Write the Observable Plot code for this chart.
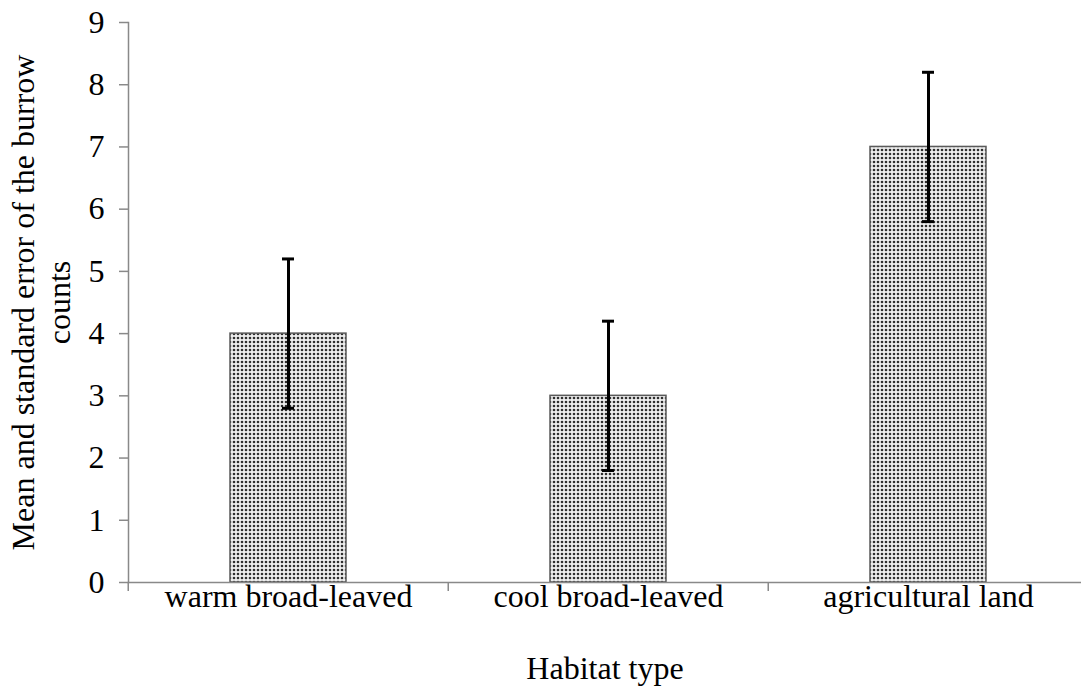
<!DOCTYPE html>
<html>
<head>
<meta charset="utf-8">
<script src="https://cdn.jsdelivr.net/npm/d3@7"></script>
<script src="https://cdn.jsdelivr.net/npm/@observablehq/plot@0.6"></script>
<style>
  html, body { margin: 0; padding: 0; background: #fff; }
  #chart { width: 1081px; height: 686px; }
</style>
</head>
<body>
<div id="chart"></div>
<script>
const categories = ["warm broad-leaved", "cool broad-leaved", "agricultural land"];
const means = [4, 3, 7];
const stdErrors = [1.2, 1.2, 1.2];
const yTicks = [0, 1, 2, 3, 4, 5, 6, 7, 8, 9];
const xTitle = "Habitat type";
const yTitle = "Mean and standard error of the burrow\ncounts";

const data = categories.map((c, i) => ({
  cat: c, mean: means[i], lo: means[i] - stdErrors[i], hi: means[i] + stdErrors[i]
}));

const FONT = "'Liberation Serif', 'Times New Roman', serif";
const AXIS = "#898989";
const FS = 32;

const plot = Plot.plot({
  width: 1081,
  height: 686,
  marginLeft: 128,
  marginTop: 22,
  marginBottom: 104,
  marginRight: 0,
  style: { fontFamily: FONT, fontSize: FS + "px", color: "#000", background: "#fff", overflow: "hidden" },
  x: { type: "band", domain: categories, range: [128, 1088], paddingInner: 0.636, paddingOuter: 0.318, label: null },
  y: { domain: [0, 9], label: null },
  marks: [
    Plot.barY(data, { x: "cat", y: "mean", fill: "url(#dots)", stroke: "#5a5a5a", strokeWidth: 1.5 }),
    Plot.frame({ anchor: "left", stroke: AXIS, strokeWidth: 1.5 }),
    Plot.frame({ anchor: "bottom", stroke: AXIS, strokeWidth: 1.5 }),
    Plot.axisY({ ticks: yTicks, tickSize: 9, tickPadding: 15, stroke: AXIS, strokeWidth: 1.5, fill: "#000", fontSize: FS, label: null, tickFormat: d3.format("d") }),
    Plot.axisX({ tickSize: 0, tickPadding: 2, fill: "#000", fontSize: FS, label: null }),
    Plot.ruleX(data, { x: "cat", y1: "lo", y2: "hi", stroke: "#000", strokeWidth: 3 }),
    Plot.tickY(data, { x: "cat", y: "lo", stroke: "#000", strokeWidth: 3, insetLeft: 52, insetRight: 52 }),
    Plot.tickY(data, { x: "cat", y: "hi", stroke: "#000", strokeWidth: 3, insetLeft: 52, insetRight: 52 }),
    Plot.text([xTitle], { frameAnchor: "bottom", text: d => d, dy: 96, lineAnchor: "bottom", textAnchor: "middle", fontSize: FS, fill: "#000" }),
    Plot.text([yTitle], { frameAnchor: "left", text: d => d, dx: -88, rotate: -90, textAnchor: "middle", lineAnchor: "middle", lineHeight: 1.13, fontSize: FS, fill: "#000" })
  ]
});

// pattern definition for the dotted bar fill
const svgNS = "http://www.w3.org/2000/svg";
const svg = plot.tagName.toLowerCase() === "svg" ? plot : plot.querySelector("svg");
const defs = document.createElementNS(svgNS, "defs");
const pat = document.createElementNS(svgNS, "pattern");
pat.setAttribute("id", "dots");
pat.setAttribute("patternUnits", "userSpaceOnUse");
pat.setAttribute("width", "4");
pat.setAttribute("height", "4");
const bg = document.createElementNS(svgNS, "rect");
bg.setAttribute("width", "4"); bg.setAttribute("height", "4"); bg.setAttribute("fill", "#eeeeee");
const dot = document.createElementNS(svgNS, "circle");
dot.setAttribute("cx", "2"); dot.setAttribute("cy", "2"); dot.setAttribute("r", "1.3"); dot.setAttribute("fill", "#2e2e2e");
pat.appendChild(bg); pat.appendChild(dot);
defs.appendChild(pat);
svg.insertBefore(defs, svg.firstChild);

// category boundary ticks below the x axis, placed via the plot's x scale
const xs = plot.scale("x");
const ys = plot.scale("y");
const y0 = ys.apply(0);
const half = xs.step * xs.paddingInner / 2;
const bounds = categories.map(c => xs.apply(c) - half);
bounds.push(xs.apply(categories[categories.length - 1]) + xs.bandwidth + half);
const g = document.createElementNS(svgNS, "g");
for (const b of bounds) {
  const ln = document.createElementNS(svgNS, "line");
  ln.setAttribute("x1", b); ln.setAttribute("x2", b);
  ln.setAttribute("y1", y0); ln.setAttribute("y2", y0 + 9);
  ln.setAttribute("stroke", AXIS); ln.setAttribute("stroke-width", "1.5");
  g.appendChild(ln);
}
svg.appendChild(g);

document.getElementById("chart").appendChild(plot);
</script>
</body>
</html>
